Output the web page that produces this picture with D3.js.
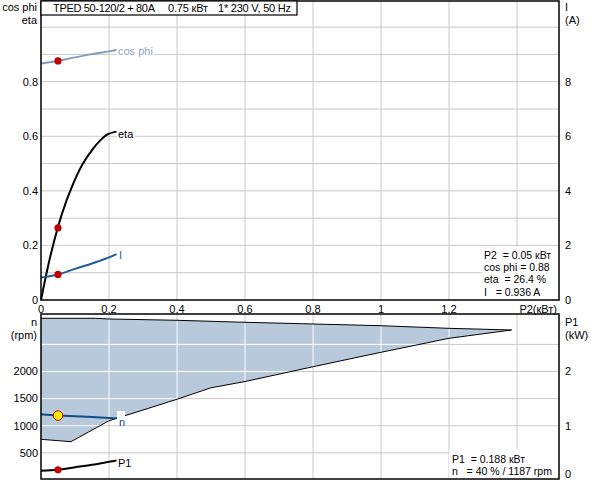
<!DOCTYPE html>
<html>
<head>
<meta charset="utf-8">
<script src="https://cdn.jsdelivr.net/npm/d3@7"></script>
<style>
  body { margin: 0; background: #fff; }
  text { font-family: "Liberation Sans", Arial, sans-serif; font-size: 11px; }
</style>
</head>
<body>
<div id="chart"></div>
<script>
// Operating curves, sampled along P2 (kW)
const p2Points = [0, 0.05, 0.1, 0.15, 0.2, 0.222];
const cosPhi = [0.867, 0.876, 0.889, 0.901, 0.911, 0.916];
const current = [0.82, 0.936, 1.14, 1.34, 1.56, 1.68];
const speed = [1211, 1187, 1174, 1161, 1145, 1137];
const p1 = [0.17, 0.188, 0.235, 0.28, 0.335, 0.36];

// eta is steep near zero so it gets its own samples
const etaP2 = [0, 0.0215, 0.049, 0.0755, 0.087, 0.1225, 0.154, 0.1735, 0.193, 0.222];
const eta = [0, 0.128, 0.264, 0.366, 0.403, 0.498, 0.556, 0.584, 0.605, 0.617];

// Speed range envelope (shaded area)
const rangeTopP2 = [0, 0.16, 0.2, 0.4, 0.6, 0.8, 1.0, 1.2, 1.384];
const rangeTopN = [2981, 2981, 2968, 2944, 2907, 2876, 2844, 2796, 2765];
const rangeLowP2 = [0, 0.065, 0.088, 0.2, 0.3, 0.4, 0.5, 0.6, 0.8, 1.0, 1.2, 1.384];
const rangeLowN = [750, 718, 706, 1093, 1290, 1488, 1700, 1815, 2088, 2354, 2612, 2765];

// Duty point
const dutyP2 = 0.05;
const dutyCos = 0.876;
const dutyEta = 0.264;
const dutyI = 0.936;
const dutyN = 1187;
const dutyP1 = 0.188;

// Ticks
const xTicks = [0, 0.2, 0.4, 0.6, 0.8, 1.0, 1.2];
const xGrid = [0.2, 0.4, 0.6, 0.8, 1.0, 1.2, 1.4];
const topGrid = [0.1, 0.2, 0.3, 0.4, 0.5, 0.6, 0.7, 0.8, 0.9, 1.0];
const topLeftTicks = [0, 0.2, 0.4, 0.6, 0.8];
const topRightTicks = [0, 2, 4, 6, 8];
const botGrid = [500, 1000, 1500, 2000, 2500];
const botLeftTicks = [500, 1000, 1500, 2000];
const botRightTicks = [1, 2];

const left = 41, right = 559;
const topY0 = 1, topY1 = 300, botY0 = 314, botY1 = 479;

const svg = d3.select("#chart").append("svg")
  .attr("width", 592)
  .attr("height", 480);

const x = d3.scaleLinear().domain([0, 1.4]).range([left, 517]);
const yTop = d3.scaleLinear().domain([0, 1]).range([300, 27.1]);
const yI = d3.scaleLinear().domain([0, 10]).range([300, 27.1]);
const yN = d3.scaleLinear().domain([0, 2000]).range([480, 371.5]);
const yP1 = d3.scaleLinear().domain([0, 2]).range([480, 371.5]);

const gridColor = "#c8c8c8";

// Gray grid
topGrid.forEach(v => {
  svg.append("line").attr("x1", left).attr("x2", right)
    .attr("y1", yTop(v)).attr("y2", yTop(v))
    .attr("stroke", gridColor);
});
xGrid.forEach(v => {
  svg.append("line").attr("x1", x(v)).attr("x2", x(v))
    .attr("y1", topY0).attr("y2", topY1)
    .attr("stroke", gridColor);
  svg.append("line").attr("x1", x(v)).attr("x2", x(v))
    .attr("y1", botY0).attr("y2", botY1)
    .attr("stroke", gridColor);
});
botGrid.forEach(v => {
  svg.append("line").attr("x1", left).attr("x2", right)
    .attr("y1", yN(v)).attr("y2", yN(v))
    .attr("stroke", gridColor);
});

// Shaded speed range
const topEdge = rangeTopP2.map((p, i) => [x(p), yN(rangeTopN[i])]);
const lowEdge = rangeLowP2.map((p, i) => [x(p), yN(rangeLowN[i])]);
const polygon = topEdge.concat(lowEdge.slice().reverse());
const line = d3.line();

svg.append("clipPath").attr("id", "range-clip")
  .append("path").attr("d", line(polygon) + "Z");

svg.append("path")
  .attr("d", line(polygon) + "Z")
  .attr("fill", "#b7c9da");

// White grid over the shaded area
const whiteGrid = svg.append("g").attr("clip-path", "url(#range-clip)");
xGrid.forEach(v => {
  whiteGrid.append("line").attr("x1", x(v)).attr("x2", x(v))
    .attr("y1", botY0).attr("y2", botY1)
    .attr("stroke", "#fff");
});
botGrid.forEach(v => {
  whiteGrid.append("line").attr("x1", left).attr("x2", right)
    .attr("y1", yN(v)).attr("y2", yN(v))
    .attr("stroke", "#fff");
});

svg.append("path").attr("d", line(topEdge))
  .attr("fill", "none").attr("stroke", "#000").attr("stroke-width", 1);
svg.append("path").attr("d", line(lowEdge))
  .attr("fill", "none").attr("stroke", "#000").attr("stroke-width", 1);

// White boxes behind the readouts
svg.append("rect").attr("x", 482).attr("y", 247).attr("width", right - 482).attr("height", 53).attr("fill", "#fff");
svg.append("rect").attr("x", 449).attr("y", 449).attr("width", right - 449).attr("height", 30).attr("fill", "#fff");

// Curve label helper with white background
function curveLabel(tx, ty, label, color) {
  const t = svg.append("text").attr("x", tx).attr("y", ty)
    .attr("fill", color).text(label);
  const b = t.node().getBBox();
  svg.insert("rect", () => t.node())
    .attr("x", b.x - 1).attr("y", b.y).attr("width", b.width + 2).attr("height", b.height)
    .attr("fill", "#fff");
}

// Curves
const curveLine = (xs, ys, yScale) => d3.line()
  .x((d, i) => x(xs[i]))
  .y(d => yScale(d))
  .curve(d3.curveMonotoneX)(ys);

svg.append("path").attr("d", curveLine(p2Points, cosPhi, yTop))
  .attr("fill", "none").attr("stroke", "#7f9fbf").attr("stroke-width", 2);
svg.append("path").attr("d", curveLine(etaP2, eta, yTop))
  .attr("fill", "none").attr("stroke", "#000").attr("stroke-width", 2);
svg.append("path").attr("d", curveLine(p2Points, current, yI))
  .attr("fill", "none").attr("stroke", "#1f5f99").attr("stroke-width", 2);
svg.append("path").attr("d", curveLine(p2Points, speed, yN))
  .attr("fill", "none").attr("stroke", "#0f4f8a").attr("stroke-width", 2);
svg.append("path").attr("d", curveLine(p2Points, p1, yP1))
  .attr("fill", "none").attr("stroke", "#000").attr("stroke-width", 2);

curveLabel(118, 55, "cos phi", "#8ca6c4");
curveLabel(118, 138, "eta", "#000");
curveLabel(119, 259, "I", "#1f5f99");
curveLabel(118, 467, "P1", "#000");
svg.append("rect").attr("x", 117).attr("y", 411).attr("width", 8).attr("height", 8).attr("fill", "#fff");
svg.append("text").attr("x", 119).attr("y", 426).attr("fill", "#0f4f8a").text("n");

// Duty point markers
[[dutyCos, yTop], [dutyEta, yTop], [dutyI, yI], [dutyP1, yP1]].forEach(([v, s]) => {
  svg.append("circle").attr("cx", x(dutyP2)).attr("cy", s(v)).attr("r", 3.6)
    .attr("fill", "#c00000");
});
svg.append("circle").attr("cx", x(dutyP2)).attr("cy", yN(dutyN)).attr("r", 4.8)
  .attr("fill", "#ffee00").attr("stroke", "#d00000").attr("stroke-width", 1);

// Frames
const frame = svg.append("g").attr("fill", "none").attr("stroke", "#000").attr("stroke-width", 1.5);
frame.append("rect").attr("x", left).attr("y", topY0).attr("width", right - left).attr("height", topY1 - topY0);
frame.append("rect").attr("x", left).attr("y", botY0).attr("width", right - left).attr("height", botY1 - botY0);

// Header box
svg.append("rect").attr("x", left).attr("y", 1).attr("width", 256).attr("height", 14)
  .attr("fill", "#fff").attr("stroke", "#000").attr("stroke-width", 1.2);
svg.append("text").attr("x", 53).attr("y", 12)
  .attr("textLength", 102).attr("lengthAdjust", "spacing").text("TPED 50-120/2 + 80A");
svg.append("text").attr("x", 168).attr("y", 12)
  .attr("textLength", 40).attr("lengthAdjust", "spacing").text("0.75 кВт");
svg.append("text").attr("x", 218).attr("y", 12)
  .attr("textLength", 73).attr("lengthAdjust", "spacing").text("1* 230 V, 50 Hz");

// Tick labels
const fmt = v => (v === 0 ? "0" : String(v));
topLeftTicks.forEach(v => {
  svg.append("text").attr("x", 38).attr("y", yTop(v)).attr("dy", "0.35em")
    .attr("text-anchor", "end").text(fmt(v));
});
topRightTicks.forEach(v => {
  svg.append("text").attr("x", 565).attr("y", yI(v)).attr("dy", "0.35em").text(fmt(v));
});
xTicks.forEach(v => {
  svg.append("text").attr("x", x(v)).attr("y", 309).attr("dy", "0.35em")
    .attr("text-anchor", "middle").text(fmt(v));
});
svg.append("text").attr("x", 557).attr("y", 309).attr("dy", "0.35em")
  .attr("text-anchor", "end").text("P2(кВт)");
botLeftTicks.forEach(v => {
  svg.append("text").attr("x", 38).attr("y", yN(v)).attr("dy", "0.35em")
    .attr("text-anchor", "end").text(v);
});
botRightTicks.forEach(v => {
  svg.append("text").attr("x", 565).attr("y", yP1(v)).attr("dy", "0.35em").text(v);
});
svg.append("text").attr("x", 565).attr("y", 474).attr("dy", "0.35em").text("0");

// Axis titles
svg.append("text").attr("x", 37).attr("y", 7).attr("dy", "0.35em").attr("text-anchor", "end").text("cos phi");
svg.append("text").attr("x", 37).attr("y", 20.5).attr("dy", "0.35em").attr("text-anchor", "end").text("eta");
svg.append("text").attr("x", 565).attr("y", 7).attr("dy", "0.35em").text("I");
svg.append("text").attr("x", 565).attr("y", 20.5).attr("dy", "0.35em").text("(A)");
svg.append("text").attr("x", 37).attr("y", 322).attr("dy", "0.35em").attr("text-anchor", "end").text("n");
svg.append("text").attr("x", 37).attr("y", 335).attr("dy", "0.35em").attr("text-anchor", "end").text("(rpm)");
svg.append("text").attr("x", 565).attr("y", 322).attr("dy", "0.35em").text("P1");
svg.append("text").attr("x", 565).attr("y", 335).attr("dy", "0.35em").text("(kW)");

// Duty point readouts
const readTop = ["P2  = 0.05 кВт", "cos phi = 0.88", "eta  = 26.4 %", "I   = 0.936 A"];
readTop.forEach((s, i) => {
  svg.append("text").attr("x", 484).attr("y", 255 + i * 12.4).attr("dy", "0.35em")
    .style("font-size", "10.5px").style("white-space", "pre").text(s);
});
const readBot = ["P1  = 0.188 кВт", "n   = 40 % / 1187 rpm"];
readBot.forEach((s, i) => {
  svg.append("text").attr("x", 452).attr("y", 459 + i * 12.6).attr("dy", "0.35em")
    .style("font-size", "10.5px").style("white-space", "pre").text(s);
});
</script>
</body>
</html>
